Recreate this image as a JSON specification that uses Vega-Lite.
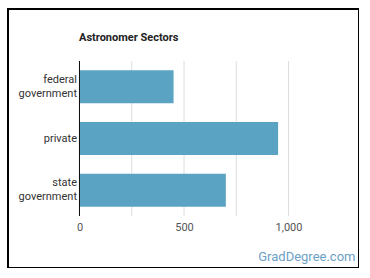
{
  "$schema": "https://vega.github.io/schema/vega-lite/v6.json",
  "autosize": {"type": "none"},
  "padding": {"left": 8, "top": 9, "right": 0, "bottom": 0},
  "width": 351,
  "height": 259,
  "background": "#ffffff",
  "config": {
    "view": {"stroke": "#000000", "strokeWidth": 2},
    "font": "Roboto"
  },
  "title": {
    "text": "Astronomer Sectors",
    "anchor": "start",
    "frame": "group",
    "dx": 71,
    "offset": -40,
    "baseline": "middle",
    "font": "Roboto",
    "fontSize": 11,
    "fontWeight": "bold",
    "color": "#222222"
  },
  "datasets": {
    "sectors": [
      {"sector": "federal government", "count": 450},
      {"sector": "private", "count": 950},
      {"sector": "state government", "count": 700}
    ],
    "ticks": [
      {"tick": 250},
      {"tick": 500},
      {"tick": 750},
      {"tick": 1000}
    ]
  },
  "layer": [
    {
      "data": {"name": "ticks"},
      "mark": {"type": "rule", "color": "#dddddd", "strokeWidth": 1},
      "encoding": {
        "x": {"field": "tick", "type": "quantitative"},
        "y": {"datum": "federal government", "bandPosition": -0.282},
        "y2": {"datum": "state government", "bandPosition": 1.282}
      }
    },
    {
      "data": {"name": "sectors"},
      "mark": {"type": "bar", "color": "#5ba3c2"},
      "encoding": {
        "y": {
          "field": "sector",
          "type": "nominal",
          "scale": {
            "domain": ["federal government", "private", "state government"],
            "range": [52, 207],
            "paddingInner": 0.362,
            "paddingOuter": 0.18
          },
          "axis": {
            "title": null,
            "orient": "left",
            "offset": -71.5,
            "domain": false,
            "ticks": false,
            "labelPadding": 3,
            "labelExpr": "split(datum.value, ' ')",
            "labelOffset": {
              "condition": {"test": "indexof(datum.value, ' ') >= 0", "value": -7},
              "value": 0
            },
            "labelFont": "Roboto",
            "labelFontSize": 11,
            "labelLineHeight": 14,
            "labelColor": "#333333"
          }
        },
        "x": {
          "field": "count",
          "type": "quantitative",
          "scale": {"domain": [-342, 1337], "nice": false, "zero": false},
          "axis": {
            "orient": "bottom",
            "offset": -52,
            "values": [0, 500, 1000],
            "labelExpr": "format(datum.value, ',')",
            "grid": false,
            "domain": false,
            "ticks": false,
            "labelPadding": 5,
            "labelFont": "Roboto",
            "labelFontSize": 11,
            "labelColor": "#555555",
            "title": "GradDegree.com",
            "titleFont": "Roboto",
            "titleFontSize": 13,
            "titleFontWeight": "normal",
            "titleColor": "#6d9fc4",
            "titleAlign": "right",
            "titleBaseline": "middle",
            "titleX": 347,
            "titleY": 40
          }
        },
        "x2": {"datum": 0}
      }
    },
    {
      "data": {"name": "sectors"},
      "mark": {"type": "rule", "color": "#111111", "strokeWidth": 1},
      "encoding": {
        "x": {"datum": 0},
        "y": {"datum": "federal government", "bandPosition": -0.282},
        "y2": {"datum": "state government", "bandPosition": 1.282}
      }
    }
  ]
}
